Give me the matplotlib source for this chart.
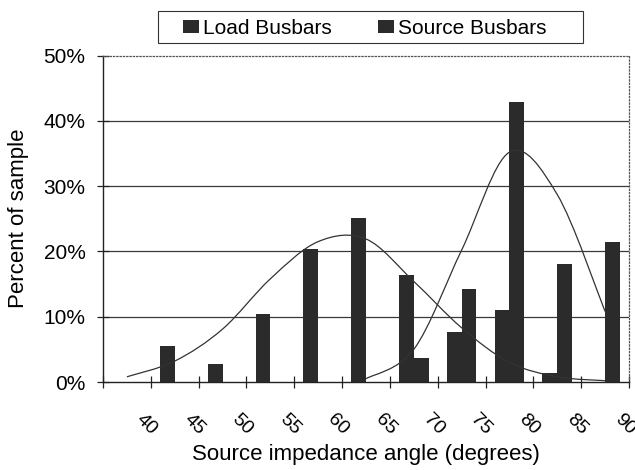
import numpy as np
import matplotlib
matplotlib.use("Agg")
import matplotlib.pyplot as plt
import matplotlib.transforms as mtransforms
from matplotlib.path import Path
from matplotlib.patches import PathPatch, Patch, Rectangle
from matplotlib.ticker import PercentFormatter

plt.rcParams['font.family'] = ['Liberation Sans', 'DejaVu Sans']

# data (percent of sample)
angles = ['40', '45', '50', '55', '60', '65', '70', '75', '80', '85', '90']
load_busbars = [0, 5.5, 2.8, 10.4, 20.4, 25.1, 16.4, 7.7, 11.1, 1.4, 0]
source_busbars = [0, 0, 0, 0, 0, 0, 3.7, 14.3, 42.9, 18.0, 21.4]
# fitted distribution curves (value at each category)
load_fit = [0.8, 3.2, 8.1, 15.8, 21.5, 21.9, 15.4, 8.3, 3.0, 0.8, 0.2]
source_fit_start = 5  # curve starts at the 65 degree category
source_fit = [0.5, 5.0, 20.2, 35.2, 28.7, 10.8]

bar_color = '#2b2b2b'
line_color = '#333333'


def smooth_path(xs, ys):
    # Bezier path through the points, like a smoothed spreadsheet line
    pts = np.column_stack([xs, ys]).astype(float)
    n = len(pts)
    verts = [pts[0]]
    codes = [Path.MOVETO]
    for i in range(n - 1):
        p0 = pts[max(i - 1, 0)]
        p1 = pts[i]
        p2 = pts[i + 1]
        p3 = pts[min(i + 2, n - 1)]
        verts += [p1 + (p2 - p0) / 6, p2 - (p3 - p1) / 6, p2]
        codes += [Path.CURVE4] * 3
    return Path(verts, codes)


fig = plt.figure(figsize=(6.35, 4.7), dpi=100)
ax = fig.add_axes([103 / 635, 1 - 382 / 470, 526 / 635, 326.5 / 470])

x = np.arange(len(angles))
w = 0.31

# grid lines behind everything
for v in [10, 20, 30, 40]:
    ax.axhline(v, color='#3a3a3a', lw=0.9, zorder=0)

ax.bar(x - w / 2, load_busbars, w, color=bar_color, zorder=2)
ax.bar(x + w / 2, source_busbars, w, color=bar_color, zorder=2)

ax.add_patch(PathPatch(smooth_path(x, load_fit), fill=False,
                       edgecolor=line_color, lw=0.9, zorder=3))
xs = x[source_fit_start:]
ax.add_patch(PathPatch(smooth_path(xs, source_fit), fill=False,
                       edgecolor=line_color, lw=0.9, zorder=3))

ax.set_xlim(-0.5, len(angles) - 0.5)
ax.set_ylim(0, 50)

ax.yaxis.set_major_formatter(PercentFormatter(decimals=0))
ax.set_yticks([0, 10, 20, 30, 40, 50])
ax.tick_params(axis='y', direction='inout', length=9, width=0.9,
               labelsize=15, pad=8, color='#222')

# tick marks between categories, labels on the categories
ax.set_xticks(np.arange(-0.5, len(angles), 1))
ax.set_xticklabels([])
ax.set_xticks(x, angles, minor=True)
ax.tick_params(axis='x', which='major', direction='inout', length=9,
               width=0.9, color='#222')
ax.tick_params(axis='x', which='minor', length=0, labelsize=14, pad=21)
offset = mtransforms.ScaledTranslation(6 / 100, 0, fig.dpi_scale_trans)
for lbl in ax.get_xticklabels(minor=True):
    lbl.set_rotation(-45)
    lbl.set_ha('left')
    lbl.set_va('top')
    lbl.set_transform(lbl.get_transform() + offset)

for side in ['top', 'right']:
    ax.spines[side].set_linestyle(':')
    ax.spines[side].set_color('#555')
    ax.spines[side].set_linewidth(0.9)
for side in ['left', 'bottom']:
    ax.spines[side].set_color('#222')
    ax.spines[side].set_linewidth(1.0)

ax.set_xlabel('Source impedance angle (degrees)', fontsize=16)
ax.xaxis.set_label_coords(0.5, -0.19)
ax.set_ylabel('Percent of sample', fontsize=16)
ax.yaxis.set_label_coords(-0.14, 0.5)

# legend entries, with the box drawn separately
handles = [Patch(facecolor=bar_color), Patch(facecolor=bar_color)]
leg = fig.legend(handles, ['Load Busbars', 'Source Busbars'],
                 loc='center left', bbox_to_anchor=(183 / 635, 1 - 28 / 470),
                 ncol=2, fontsize=15, frameon=False,
                 handlelength=0.77, handleheight=0.6, handletextpad=0.2,
                 columnspacing=2.2, borderpad=0, borderaxespad=0)
fig.patches.append(Rectangle((158 / 635, 1 - 43 / 470), 425 / 635, 32 / 470,
                             transform=fig.transFigure, fill=False,
                             edgecolor='#333', lw=0.8))

fig.savefig('out.png', dpi=100)
